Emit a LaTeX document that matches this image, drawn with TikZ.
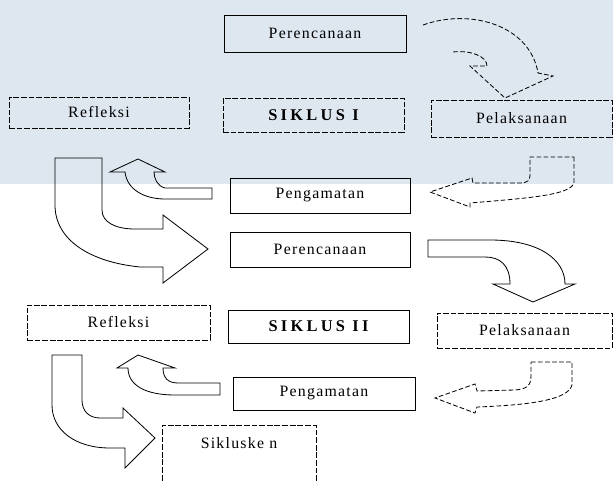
\documentclass[tikz,border=0pt]{standalone}
\usepackage{fontspec}
\setmainfont{Liberation Serif}
\usetikzlibrary{positioning}
\newfontfamily\stagefont[LetterSpace=8]{Liberation Serif}
\newfontfamily\cyclefont[LetterSpace=20]{Liberation Serif}
\definecolor{scanBlue}{RGB}{222,230,240}
\tikzset{
    stage/.style={rectangle, draw=black, line width=0.7pt, minimum width=5.43cm, minimum height=1.05cm, inner sep=0pt, font=\stagefont\fontsize{13.5}{15}\selectfont},
    faint/.style={stage, dash pattern=on 5pt off 1.5pt},
    cyclebox/.style={stage, font=\cyclefont\bfseries\fontsize{14}{16}\selectfont},
    bigarrow/.style={draw=black, line width=0.7pt, line join=miter},
    faintarrow/.style={bigarrow, dash pattern=on 4pt off 2pt}
}

\begin{document}
\begin{tikzpicture}[x=0.03cm, y=-0.03cm]

    \useasboundingbox (0,0) rectangle (613,481);
    \clip (0,0) rectangle (613,481);
    \fill[scanBlue] (0,0) rectangle (613,184);

    % Siklus I
    \node (plan1) [stage, minimum width=5.46cm, minimum height=1.11cm] at (315,33.5) {Perencanaan};
    \node (refl1) [faint, minimum width=5.4cm, minimum height=0.93cm] at (99,112.5) {Refleksi};
    \node (cyc1) [faint, font=\cyclefont\bfseries\fontsize{14}{16}\selectfont, minimum height=1.02cm] at (313.5,115) {SIKLUS I};
    \node (act1) [faint, minimum height=1.11cm] at (521.5,118.5) {Pelaksanaan};
    \node (obs1) [stage, minimum width=5.4cm] at (320,195.5) {Pengamatan};

    % Siklus II
    \node (plan2) [stage, minimum width=5.4cm] at (320,249.5) {Perencanaan};
    \node (refl2) [faint, minimum width=5.49cm] at (118.5,322.5) {Refleksi};
    \node (cyc2) [cyclebox, minimum height=0.99cm] at (318.5,326.5) {SIKLUS II};
    \node (act2) [faint, minimum width=5.25cm] at (524.5,330.5) {Pelaksanaan};
    \node (obs2) [stage, minimum width=5.46cm, minimum height=0.99cm] at (324,393.5) {Pengamatan};

    % Siklus ke n
    \node (next) [faint, anchor=north, minimum width=4.62cm, text height=0.39cm, text depth=2cm, inner ysep=0.3cm] at (239,425) {Sikluske n};

    % Block arrows
    \draw [faintarrow] (423,25) .. controls (470,8) and (530,25) .. (538,73) -- (553,76) -- (505,98) -- (470,66) -- (487,66) .. controls (487,56) and (470,50) .. (453,52);
    \draw [bigarrow] (212,188) -- (165,188) .. controls (157,186) and (154,178) .. (154,172) -- (165,172) -- (138,159) -- (110,172) -- (125,172) .. controls (127,190) and (145,199) .. (165,199) -- (212,199) -- cycle;
    \draw [bigarrow] (55,158) -- (102,158) -- (102,210) .. controls (102,222) and (115,229) .. (135,229) -- (163,229) -- (163,215) -- (208,249) -- (163,283) -- (163,267) -- (140,267) .. controls (90,262) and (55,240) .. (55,205) -- cycle;
    \draw [bigarrow] (428,240) -- (490,240) .. controls (540,240) and (565,260) .. (565,284) -- (575,284) -- (533,302) -- (493,284) -- (510,284) .. controls (510,265) and (500,257) .. (485,257) -- (428,257) -- cycle;
    \draw [faintarrow] (574,157) -- (574,183) .. controls (570,195) and (530,198) .. (470,203) -- (470,207) -- (430,192) -- (472,178) -- (473,183) -- (520,183) .. controls (528,183) and (530,180) .. (530,175) -- (530,157) -- cycle;
    \draw [faintarrow] (531,362) -- (572,362) -- (572,385) .. controls (568,400) and (530,405) .. (477,407) -- (475,413) -- (435,398) -- (475,384) -- (477,391) -- (515,390) .. controls (528,389) and (531,385) .. (531,375) -- cycle;
    \draw [bigarrow] (220,395) -- (175,395) .. controls (145,395) and (128,385) .. (128,368) -- (117,368) -- (138,355) -- (175,368) -- (163,368) .. controls (163,378) and (168,383) .. (178,383) -- (220,383) -- cycle;
    \draw [bigarrow] (52,355) -- (82,355) -- (82,400) .. controls (82,412) and (90,418) .. (100,418) -- (123,418) -- (123,408) -- (155,438) -- (125,468) -- (125,448) -- (110,448) .. controls (75,448) and (52,430) .. (52,405) -- cycle;

\end{tikzpicture}
\end{document}
